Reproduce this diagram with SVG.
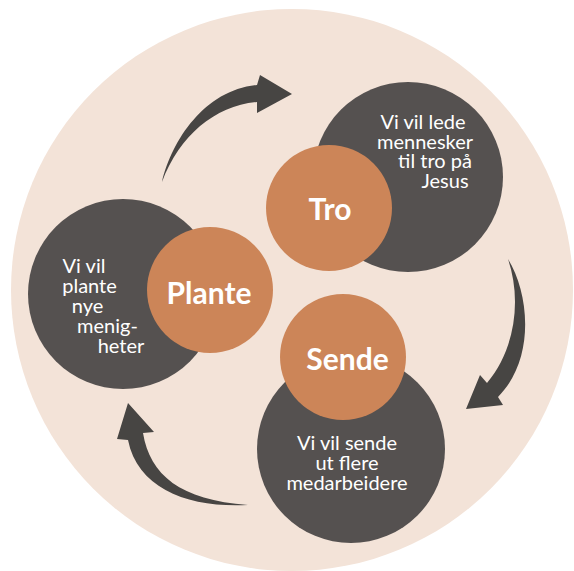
<svg xmlns="http://www.w3.org/2000/svg" width="574" height="571" viewBox="0 0 574 571">
<style>
.bg{fill:#f3e3d8}
.dark{fill:#555150}
.orange{fill:#cc8558}
.arrow{fill:#474543}
.title{font-family:Lato,"Liberation Sans",sans-serif;font-weight:bold;font-size:30px;fill:#ffffff;text-anchor:middle}
.desc{font-family:Lato,"Liberation Sans",sans-serif;font-size:20px;fill:#ffffff;text-anchor:middle}
</style>
<rect width="574" height="571" fill="#ffffff"/>
<circle class="bg" cx="292" cy="290" r="281"/>
<g id="connectors">
<path class="arrow" d="M162,182 C172,140 205,90 257,85 L260,75 L292,94 L257,113 L257,102 C215,106 180,135 162,182 Z"/>
<path class="arrow" d="M508,259 C530,295 535,360 498,397 L503,405 L466,409 L480,375 L487,383 C515,350 522,300 508,259 Z"/>
<path class="arrow" d="M248,505 C190,508 138,490 128,440 L117,439 L128,403 L154,432 L143,433 C150,475 180,500 248,505 Z"/>
</g>
<g id="tro">
<circle class="dark" cx="408" cy="177" r="95"/>
<circle class="orange" cx="329" cy="208" r="63"/>
<text class="title" x="330" y="220">Tro</text>
<text class="desc"><tspan x="423" y="129">Vi vil lede</tspan><tspan x="425" y="149">mennesker</tspan><tspan x="435" y="168">til tro på</tspan><tspan x="445" y="188">Jesus</tspan></text>
</g>
<g id="plante">
<circle class="dark" cx="123" cy="294" r="95"/>
<circle class="orange" cx="210" cy="290" r="63"/>
<text class="title" x="209" y="304">Plante</text>
<text class="desc"><tspan x="84" y="273">Vi vil</tspan><tspan x="89.5" y="293">plante</tspan><tspan x="87.5" y="313">nye</tspan><tspan x="107.5" y="333">menig-</tspan><tspan x="121" y="353">heter</tspan></text>
</g>
<g id="sende">
<circle class="dark" cx="351" cy="449" r="94"/>
<circle class="orange" cx="343" cy="357" r="63"/>
<text class="title" x="347.5" y="370">Sende</text>
<text class="desc"><tspan x="347" y="450">Vi vil sende</tspan><tspan x="347" y="470">ut flere</tspan><tspan x="347" y="490">medarbeidere</tspan></text>
</g>
</svg>
